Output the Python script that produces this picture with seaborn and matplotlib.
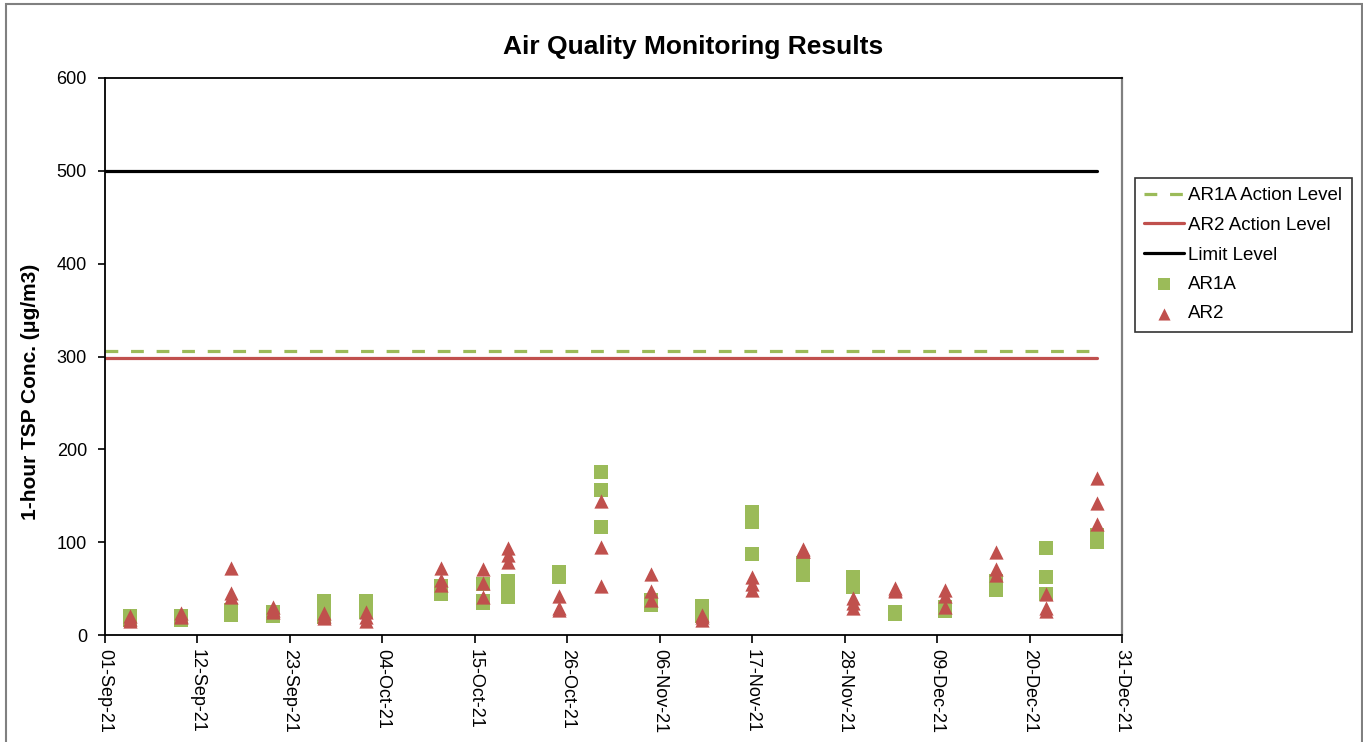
import matplotlib
matplotlib.use("Agg")
import matplotlib.pyplot as plt
import matplotlib.dates as mdates
from matplotlib.patches import Rectangle
import seaborn as sns
import pandas as pd

# ---------------- data ----------------
sample_dates = ["2021-09-04", "2021-09-10", "2021-09-16", "2021-09-21", "2021-09-27",
                "2021-10-02", "2021-10-11", "2021-10-16", "2021-10-19", "2021-10-25",
                "2021-10-30", "2021-11-05", "2021-11-11", "2021-11-17", "2021-11-23",
                "2021-11-29", "2021-12-04", "2021-12-10", "2021-12-16", "2021-12-22",
                "2021-12-28"]

ar1a_values = [[21, 18, 16], [20, 17, 16], [27, 24, 22], [25, 23, 21], [37, 28, 19],
               [37, 30, 25], [53, 49, 44], [55, 37, 35], [58, 50, 41], [68, 65, 63],
               [176, 156, 116], [38, 35, 32], [31, 25, 20], [132, 122, 87], [78, 72, 65],
               [63, 58, 52], [25, 24, 23], [30, 28, 26], [58, 53, 49], [94, 63, 44],
               [108, 104, 100]]

ar2_values = [[20, 17, 15], [24, 21, 19], [72, 45, 41], [30, 27, 25], [24, 20, 18],
              [25, 19, 15], [72, 59, 54], [71, 56, 41], [94, 86, 79], [42, 29, 27],
              [144, 95, 53], [66, 47, 38], [22, 19, 16], [62, 55, 48], [93, 91, 90],
              [40, 35, 29], [51, 49, 47], [49, 42, 30], [89, 71, 65], [44, 29, 26],
              [169, 142, 120]]

level_dates = ["2021-09-01", "2021-12-28"]
ar1a_action_level = [306, 306]
ar2_action_level = [298, 298]
limit_level = [500, 500]

x_start, x_end = "2021-09-01", "2021-12-31"
tick_step_days = 11
y_ticks = [0, 100, 200, 300, 400, 500, 600]

title = "Air Quality Monitoring Results"
y_label = "1-hour TSP Conc. (\u03bcg/m3)"

GREEN = "#9BBB59"
RED = "#C0504D"

# ---------------- frames ----------------
def long_frame(values):
    rows = []
    for d, vals in zip(sample_dates, values):
        for v in vals:
            rows.append({"date": pd.Timestamp(d), "value": v})
    return pd.DataFrame(rows)

df_ar1a = long_frame(ar1a_values)
df_ar2 = long_frame(ar2_values)
lv_dates = pd.to_datetime(level_dates)
df_l1 = pd.DataFrame({"date": lv_dates, "value": ar1a_action_level})
df_l2 = pd.DataFrame({"date": lv_dates, "value": ar2_action_level})
df_lim = pd.DataFrame({"date": lv_dates, "value": limit_level})

# ---------------- plot ----------------
sns.set_style("ticks")
plt.rcParams["font.family"] = ["Liberation Sans", "DejaVu Sans"]
for key in ["text.color", "axes.labelcolor", "xtick.color", "ytick.color"]:
    plt.rcParams[key] = "black"

W, H = 1363, 742
fig = plt.figure(figsize=(W / 100, H / 100), dpi=100)
ax = fig.add_axes([105 / W, 1 - 635 / H, (1122 - 105) / W, (635 - 78) / H])

sns.lineplot(data=df_l1, x="date", y="value", ax=ax, color=GREEN, lw=2.3,
             linestyle=(0, (4, 4)), label="AR1A Action Level")
sns.lineplot(data=df_l2, x="date", y="value", ax=ax, color=RED, lw=2.3,
             label="AR2 Action Level")
sns.lineplot(data=df_lim, x="date", y="value", ax=ax, color="black", lw=2.3,
             label="Limit Level")
sns.scatterplot(data=df_ar1a, x="date", y="value", ax=ax, color=GREEN, marker="s",
                s=90, linewidth=0, label="AR1A", zorder=3)
sns.scatterplot(data=df_ar2, x="date", y="value", ax=ax, color=RED, marker="^",
                s=105, linewidth=0, label="AR2", zorder=4)

ax.set_xlim(pd.Timestamp(x_start), pd.Timestamp(x_end))
ax.set_ylim(y_ticks[0], y_ticks[-1])
ax.set_yticks(y_ticks)
ax.set_xticks(pd.date_range(x_start, x_end, freq=f"{tick_step_days}D"))
ax.xaxis.set_major_formatter(mdates.DateFormatter("%d-%b-%y"))
ax.set_xlabel("")
ax.set_ylabel("")
ax.tick_params(axis="x", direction="out", length=6, width=1.2, pad=4,
               labelsize=13, labelrotation=270, colors="black")
ax.tick_params(axis="y", direction="out", length=5, width=1.2, pad=8,
               labelsize=13, colors="black")
for lbl in ax.get_xticklabels():
    lbl.set_ha("center")
    lbl.set_va("top")

for side in ["left", "bottom", "top"]:
    ax.spines[side].set_color("black")
    ax.spines[side].set_linewidth(1.3)
ax.spines["right"].set_color("#808080")
ax.spines["right"].set_linewidth(1.6)
ax.spines["right"].set_visible(True)
ax.spines["top"].set_visible(True)

handles, labels = ax.get_legend_handles_labels()
leg = ax.legend(handles, labels, loc="upper left",
                bbox_to_anchor=(1135 / W, 1 - 178 / H), bbox_transform=fig.transFigure,
                borderaxespad=0, frameon=True, fancybox=False, edgecolor="black",
                fontsize=13.5, handlelength=2.1, handletextpad=0.25, labelspacing=0.66,
                borderpad=0.5, markerscale=0.85)
leg.get_frame().set_linewidth(1.2)
for t in leg.get_texts():
    t.set_color("black")

fig.text(693 / W, 1 - 47 / H, title, ha="center", va="center",
         fontsize=19, fontweight="bold", color="black")
fig.text(31 / W, 1 - 392 / H, y_label, ha="center", va="center",
         rotation=90, fontsize=15, fontweight="bold", color="black")

fig.patches.append(Rectangle((6 / W, -0.2), (1362 - 6) / W, 1.2 - 4 / H,
                             transform=fig.transFigure, fill=False,
                             edgecolor="#808080", lw=1.5))

fig.savefig("out.png", dpi=100)
